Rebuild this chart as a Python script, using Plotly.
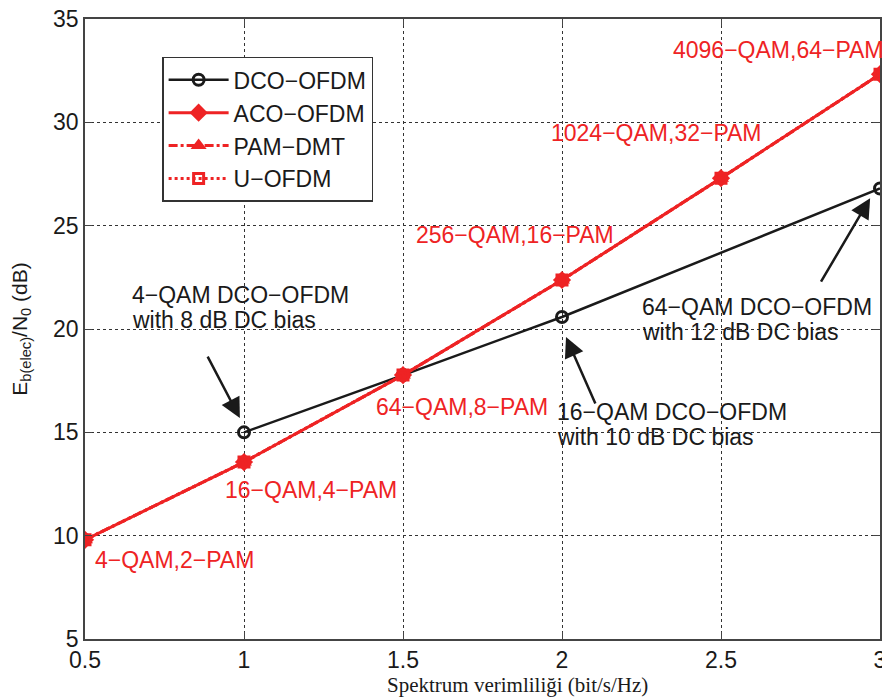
import plotly.graph_objects as go

# data
dco_x = [1, 1.5, 2, 3]
dco_y = [15.0, 17.77, 20.58, 26.8]
red_x = [0.5, 1, 1.5, 2, 2.5, 3]
aco_y = [9.8, 13.56, 17.77, 22.37, 27.3, 32.33]
pam_y = [9.8, 13.56, 17.77, 22.37, 27.3, 32.33]
uofdm_y = [9.8, 13.56, 17.77, 22.37, 27.3, 32.33]
series_names = ["DCO−OFDM", "ACO−OFDM", "PAM−DMT", "U−OFDM"]
x_ticks = [0.5, 1, 1.5, 2, 2.5, 3]
x_tick_labels = ["0.5", "1", "1.5", "2", "2.5", "3"]
y_ticks = [5, 10, 15, 20, 25, 30, 35]
mod_labels = ["4−QAM,2−PAM", "16−QAM,4−PAM", "64−QAM,8−PAM", "256−QAM,16−PAM",
              "1024−QAM,32−PAM", "4096−QAM,64−PAM"]
dco_line1 = ["4−QAM DCO−OFDM", "16−QAM DCO−OFDM", "64−QAM DCO−OFDM"]
dco_line2 = ["with 8 dB DC bias", "with 10 dB DC bias", "with 12 dB DC bias"]
x_title = "Spektrum verimliliği (bit/s/Hz)"
y_title = "E<sub>b(elec)</sub>/N<sub>0</sub> (dB)"

RED = "#ee2324"
BLK = "#1a1a1a"
FONT = "Liberation Sans, Arial, sans-serif"
FS = 23

fig = go.Figure()
fig.add_trace(go.Scatter(x=dco_x, y=dco_y, mode="lines+markers", name=series_names[0],
                         line=dict(color=BLK, width=2.5),
                         marker=dict(symbol="circle-open", size=11, color=BLK,
                                     line=dict(width=3))))
fig.add_trace(go.Scatter(x=red_x, y=aco_y, mode="lines+markers", name=series_names[1],
                         line=dict(color=RED, width=3),
                         marker=dict(symbol="diamond", size=14, color=RED)))
fig.add_trace(go.Scatter(x=red_x, y=pam_y, mode="lines+markers", name=series_names[2],
                         line=dict(color=RED, width=3, dash="dashdot"),
                         marker=dict(symbol="triangle-up", size=14, color=RED)))
fig.add_trace(go.Scatter(x=red_x, y=uofdm_y, mode="lines+markers", name=series_names[3],
                         line=dict(color=RED, width=3, dash="dot"),
                         marker=dict(symbol="square-open", size=10, color=RED,
                                     line=dict(width=3))))

annotations = []
mod_pos = [(0.783, 8.82), (1.211, 12.21), (1.686, 16.22), (1.852, 24.55),
           (2.296, 29.48), (2.68, 33.5)]
for txt, (ax_, ay_) in zip(mod_labels, mod_pos):
    annotations.append(dict(x=ax_, y=ay_, xref="x", yref="y", text=txt, showarrow=False,
                            font=dict(family=FONT, size=FS, color=RED),
                            xanchor="center", yanchor="middle"))
dco_pos = [(0.6415, 21.64, 20.43), (1.978, 15.98, 14.77), (2.245, 21.06, 19.85)]
for t1, t2, (ax_, y1, y2) in zip(dco_line1, dco_line2, dco_pos):
    for txt, yy in ((t1, y1), (t2, y2)):
        annotations.append(dict(x=ax_, y=yy, xref="x", yref="y", text=txt, showarrow=False,
                                font=dict(family=FONT, size=FS, color=BLK),
                                xanchor="left", yanchor="middle"))
# arrows
arrows = [(0.987, 15.69, -33, -63), (2.0126, 19.61, 30, 68), (2.969, 26.33, -50, 85)]
for hx, hy, tx, ty in arrows:
    annotations.append(dict(x=hx, y=hy, xref="x", yref="y", ax=tx, ay=ty, text="",
                            showarrow=True, arrowhead=2, arrowsize=1.6, arrowwidth=2.5,
                            arrowcolor=BLK, standoff=0))
# x-axis title (offset right as in the reference)
annotations.append(dict(x=0.5434, y=-0.074, xref="paper", yref="paper", text=x_title,
                        showarrow=False, xanchor="center", yanchor="middle",
                        font=dict(family="Liberation Serif, Times New Roman, serif",
                                  size=21, color=BLK)))

fig.update_layout(
    width=882, height=691,
    margin=dict(l=77, r=10, t=11, b=60, autoexpand=False),
    paper_bgcolor="white", plot_bgcolor="white",
    font=dict(family=FONT, size=FS, color=BLK),
    showlegend=True,
    legend=dict(x=0.097, y=0.939, xanchor="left", yanchor="top",
                bgcolor="white", bordercolor="#333333", borderwidth=1.5,
                font=dict(family=FONT, size=FS, color=BLK),
                tracegroupgap=0, itemwidth=60),
    annotations=annotations,
)
fig.update_xaxes(range=[0.5, 3], tickvals=x_ticks, ticktext=x_tick_labels,
                 automargin=False, ticklabeloverflow="allow",
                 showline=True, linecolor="#444444", linewidth=1.5, mirror="ticks",
                 ticks="inside", ticklen=7, tickcolor="#444444",
                 showgrid=True, gridcolor="#333333", griddash="dot", gridwidth=1,
                 zeroline=False,
                 tickfont=dict(family=FONT, size=FS))
fig.update_yaxes(range=[5, 35], tickvals=y_ticks,
                 automargin=False, ticklabeloverflow="allow",
                 showline=True, linecolor="#444444", linewidth=1.5, mirror="ticks",
                 ticks="inside", ticklen=7, tickcolor="#444444",
                 showgrid=True, gridcolor="#333333", griddash="dot", gridwidth=1,
                 zeroline=False,
                 tickfont=dict(family=FONT, size=FS),
                 title=dict(text=y_title, standoff=24,
                            font=dict(family=FONT, size=21)))

fig.write_html("out.html")
